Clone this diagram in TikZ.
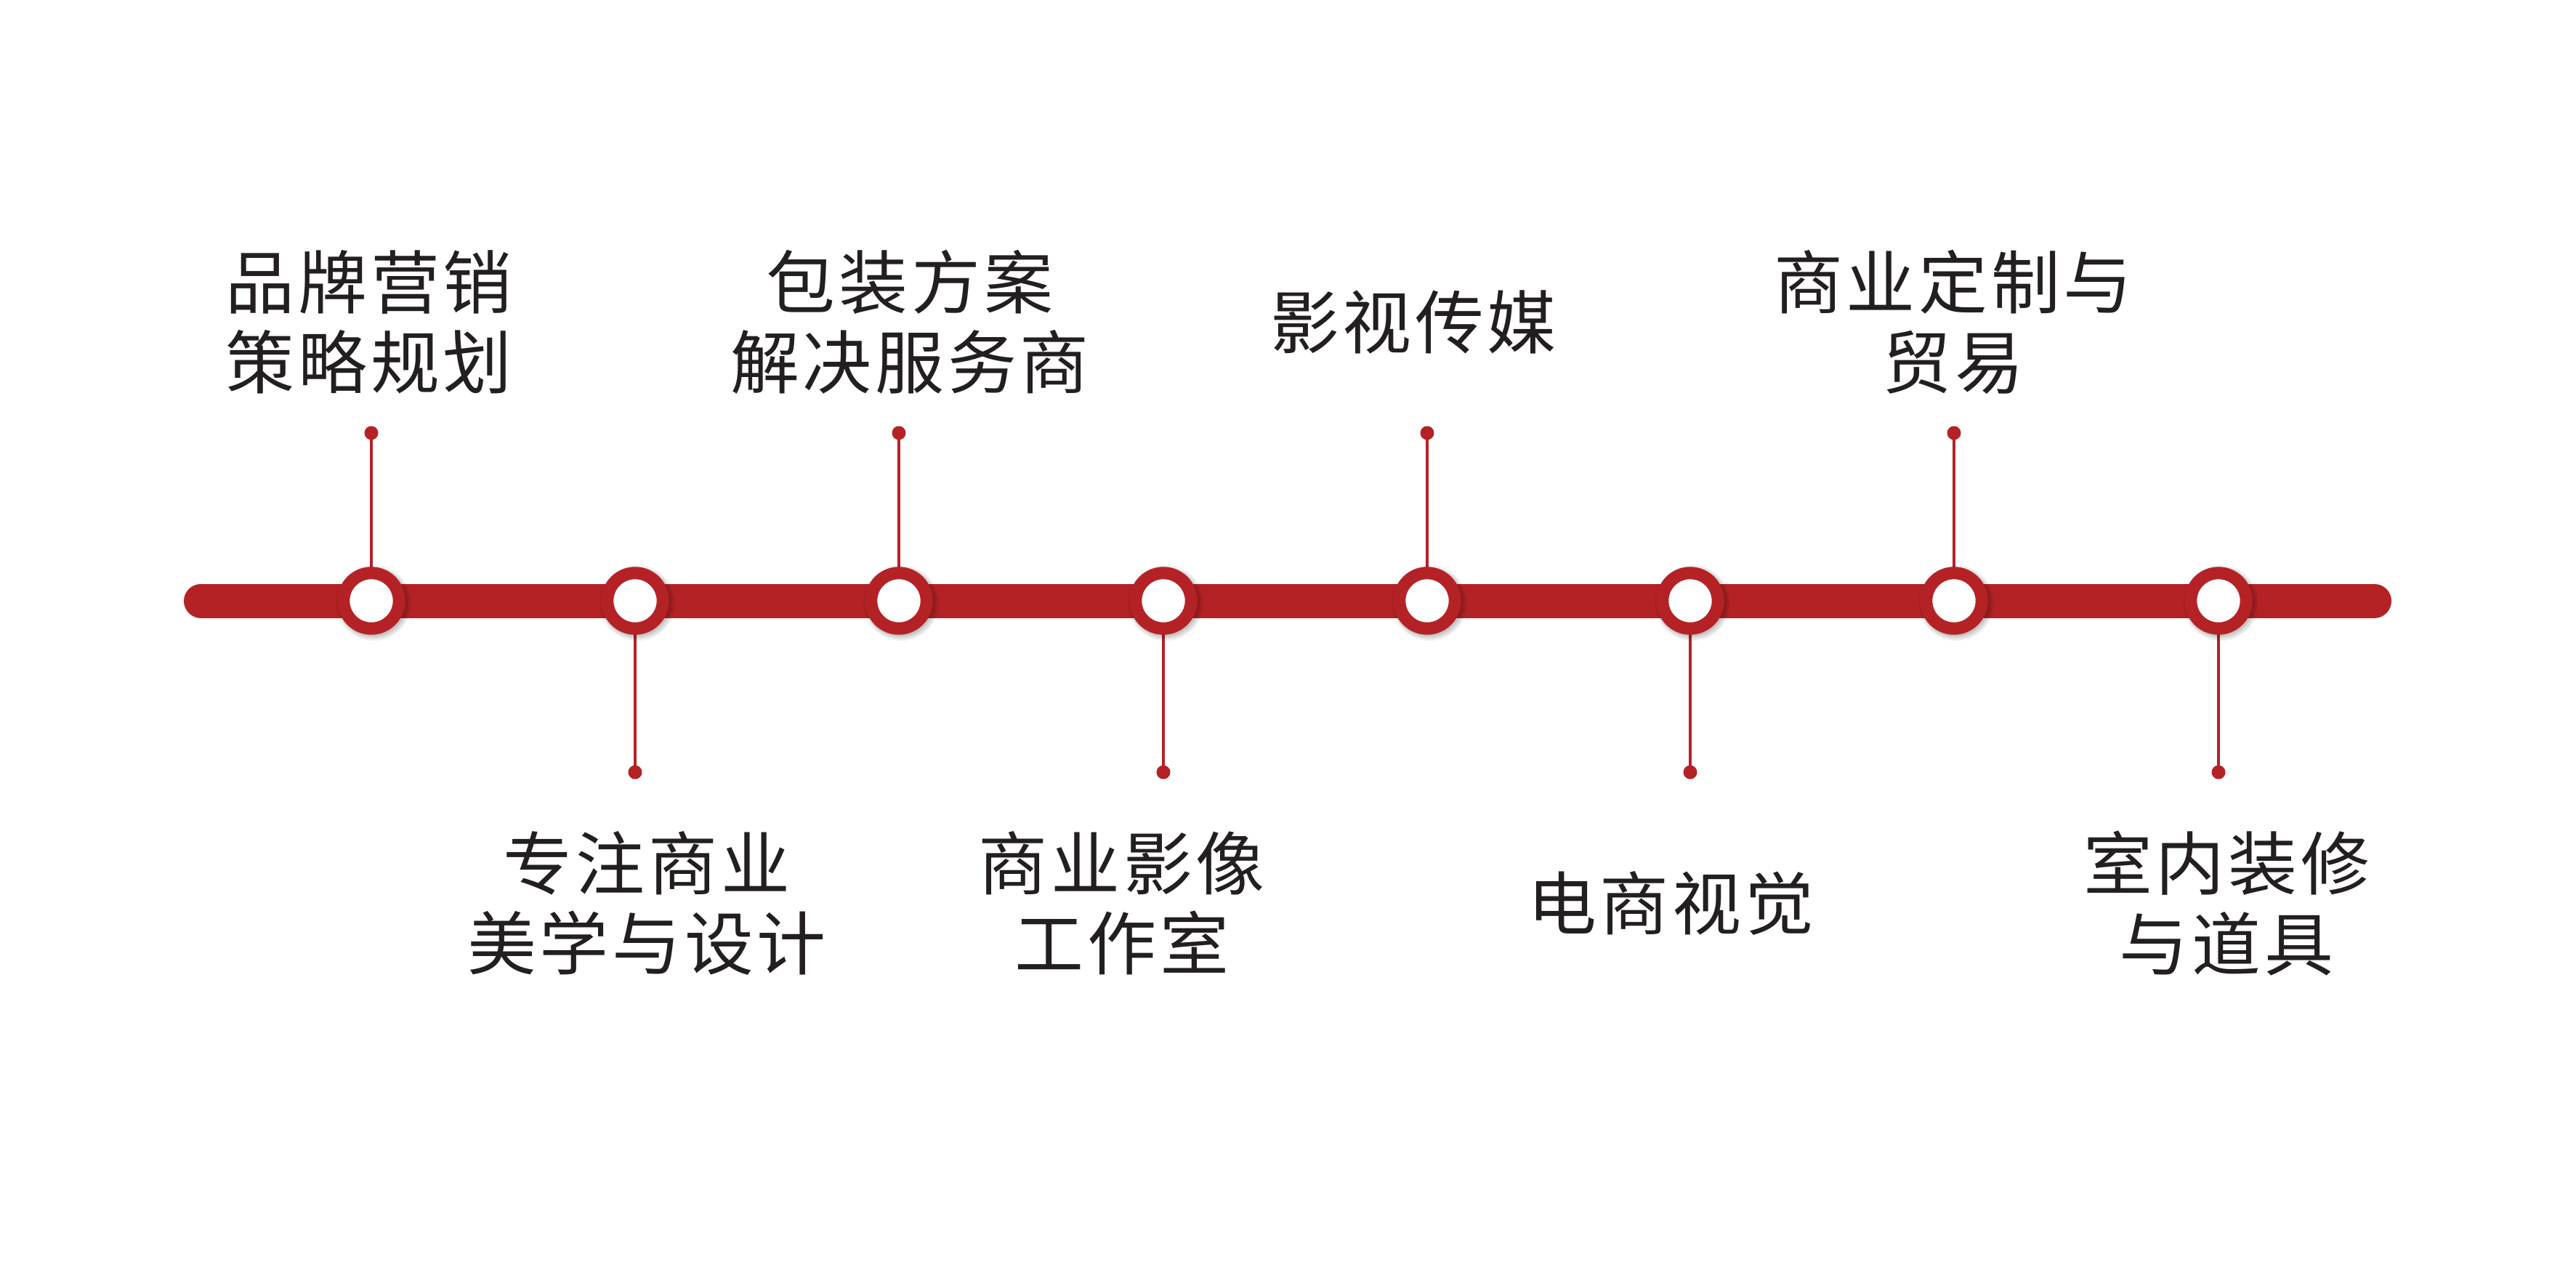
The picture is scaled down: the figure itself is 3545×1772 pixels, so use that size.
\documentclass[tikz,border=0pt]{standalone}
\usepackage{fontspec}
\newfontfamily\cjk[LetterSpace=5]{Noto Sans CJK SC}
\definecolor{tlred}{HTML}{B52226}
\definecolor{tltext}{HTML}{231F20}
\tikzset{
  bar/.style={line width=0.47cm, tlred, line cap=round},
  stem/.style={line width=0.043cm, tlred},
  knot/.style={circle, draw=tlred, line width=0.17cm, fill=white, minimum size=0.764cm, inner sep=0pt},
  pin/.style={circle, fill=tlred, minimum size=0.19cm, inner sep=0pt},
  lbl/.style={font=\cjk\fontsize{27}{31.3}\selectfont, text=tltext, align=center, inner sep=0pt},
}
\newcommand{\knotshadow}[1]{%
  \fill[black, opacity=0.06] ($(#1)+(3,3)$) circle (0.52cm);
  \fill[black, opacity=0.08] ($(#1)+(3,3)$) circle (0.495cm);
  \fill[black, opacity=0.10] ($(#1)+(2,2)$) circle (0.475cm);
}
\usetikzlibrary{calc}
\begin{document}
\begin{tikzpicture}[x=0.01cm, y=-0.01cm]
\useasboundingbox (0,0) rectangle (3545,1772);
\fill[white] (0,0) rectangle (3545,1772);
% bar
\coordinate (bl) at (276.5,827);
\coordinate (br) at (3267.5,827);
\draw[bar] (bl) -- (br);
% pins
\foreach \i/\x/\y in {1/511/596, 2/874/1063, 3/1237/596, 4/1601/1063, 5/1964/596, 6/2326/1063, 7/2689/596, 8/3053/1063}{
  \coordinate (k\i) at (\x,827);
  \node[pin] (d\i) at (\x,\y) {};
  \draw[stem] (d\i.center) -- (k\i);
}
% shadows and knots
\foreach \i in {1,...,8}{
  \knotshadow{k\i}
}
\foreach \i in {1,...,8}{
  \node[knot] (c\i) at (k\i) {};
}
% labels
\node[lbl] (l1) at (508,443.5) {品牌营销\\策略规划};
\node[lbl] (l2) at (890,1243.5) {专注商业\\美学与设计};
\node[lbl] (l3) at (1252,443.5) {包装方案\\解决服务商};
\node[lbl] (l4) at (1544,1243.5) {商业影像\\工作室};
\node[lbl] (l5) at (1945,443.5) {影视传媒};
\node[lbl] (l6) at (2299,1243.5) {电商视觉};
\node[lbl] (l7) at (2688,443.5) {商业定制与\\贸易};
\node[lbl] (l8) at (3064,1243.5) {室内装修\\与道具};
\end{tikzpicture}
\end{document}
